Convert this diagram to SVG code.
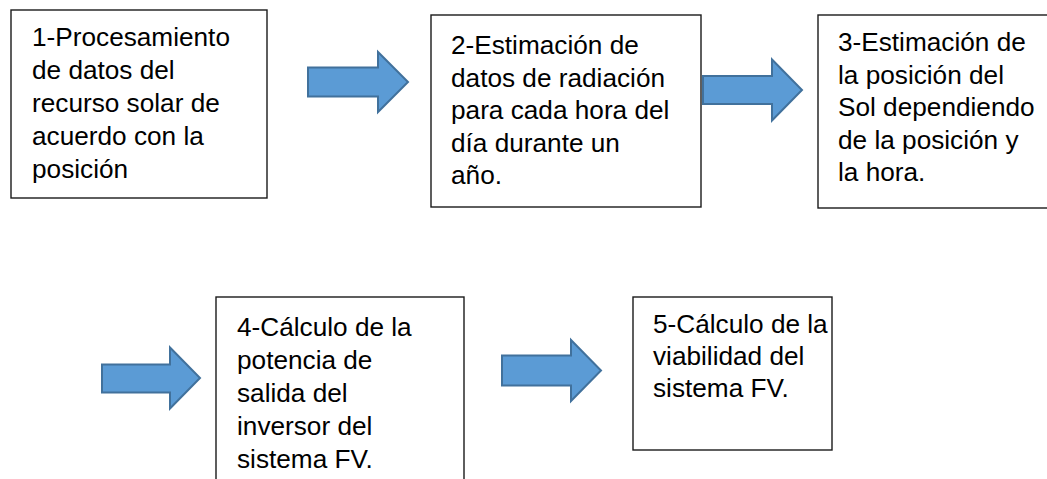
<svg xmlns="http://www.w3.org/2000/svg" width="1047" height="479" viewBox="0 0 1047 479">
<style>
.box{fill:#fff;stroke:#1a1a1a;stroke-width:1.4}
.t{font-family:"Liberation Sans",Arial,sans-serif;font-size:26.2px;fill:#000}
.arr{fill:#5B9BD5;stroke:#41719C;stroke-width:2;stroke-linejoin:miter}
</style>
<rect width="1047" height="479" fill="#fff"/>
<g id="n1">
<rect class="box" x="11" y="10" width="256" height="188"/>
<text class="t"><tspan x="32" y="46">1-Procesamiento</tspan><tspan x="32" y="79">de datos del</tspan><tspan x="32" y="112">recurso solar de</tspan><tspan x="32" y="145">acuerdo con la</tspan><tspan x="32" y="178">posición</tspan></text>
</g>
<g id="n2">
<rect class="box" x="431" y="15" width="270" height="192"/>
<text class="t"><tspan x="451" y="54">2-Estimación de</tspan><tspan x="451" y="86.5">datos de radiación</tspan><tspan x="451" y="119">para cada hora del</tspan><tspan x="451" y="151.5">día durante un</tspan><tspan x="451" y="184">año.</tspan></text>
</g>
<g id="n3">
<rect class="box" x="818" y="15" width="240" height="193"/>
<text class="t"><tspan x="838" y="51">3-Estimación de</tspan><tspan x="838" y="83.5">la posición del</tspan><tspan x="838" y="116">Sol dependiendo</tspan><tspan x="838" y="148.5">de la posición y</tspan><tspan x="838" y="181">la hora.</tspan></text>
</g>
<g id="n4">
<rect class="box" x="216" y="297" width="248" height="200"/>
<text class="t"><tspan x="237" y="336">4-Cálculo de la</tspan><tspan x="237" y="369">potencia de</tspan><tspan x="237" y="402">salida del</tspan><tspan x="237" y="435">inversor del</tspan><tspan x="237" y="468">sistema FV.</tspan></text>
</g>
<g id="n5">
<rect class="box" x="633" y="297" width="199" height="153"/>
<text class="t"><tspan x="653" y="333">5-Cálculo de la</tspan><tspan x="653" y="365">viabilidad del</tspan><tspan x="653" y="397">sistema FV.</tspan></text>
</g>
<g id="connectors">
<polygon class="arr" points="308,67.5 378,67.5 378,52 408,82 378,112 378,96.5 308,96.5"/>
<polygon class="arr" points="703,76 772,76 772,59.5 802,90 772,120.5 772,104 703,104"/>
<polygon class="arr" points="102,364.5 170,364.5 170,347.5 200,378 170,408.5 170,392.5 102,392.5"/>
<polygon class="arr" points="502,355.5 571,355.5 571,340 601,370.5 571,401 571,385.5 502,385.5"/>
</g>
</svg>
